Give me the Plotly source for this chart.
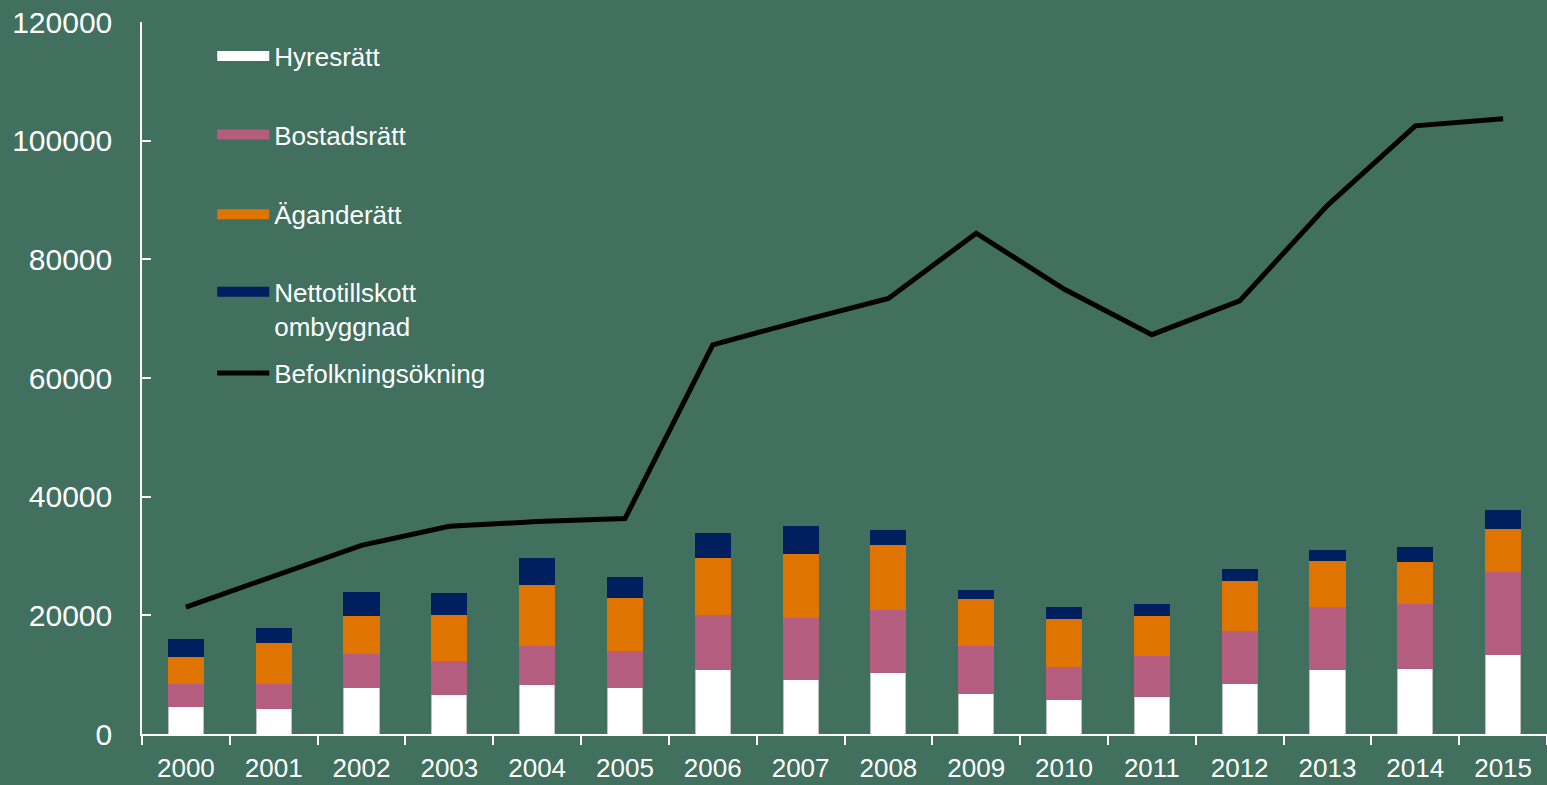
import plotly.graph_objects as go

years = ["2000", "2001", "2002", "2003", "2004", "2005", "2006", "2007",
         "2008", "2009", "2010", "2011", "2012", "2013", "2014", "2015"]
hyresratt = [4600, 4300, 7900, 6700, 8400, 7800, 10850, 9150,
             10300, 6900, 5750, 6350, 8450, 10850, 11100, 13400]
bostadsratt = [3900, 4250, 5650, 5700, 6450, 6250, 9250, 10550,
               10700, 8100, 5600, 6900, 9000, 10600, 10950, 14000]
aganderatt = [4500, 6850, 6350, 7700, 10300, 9000, 9650, 10800,
              11000, 7800, 8150, 6800, 8500, 7750, 7050, 7200]
netto_ombyggnad = [2850, 2400, 3950, 3600, 4450, 3300, 4000, 4400,
                   2250, 1350, 1750, 1700, 1750, 1800, 2350, 3000]
befolkningsokning = [21400, 26500, 31800, 35000, 35800, 36300, 65600, 69600,
                     73400, 84400, 75000, 67300, 73000, 89100, 102500, 103700]

names = ["Hyresrätt", "Bostadsrätt", "Äganderätt", "Nettotillskott<br>ombyggnad",
         "Befolkningsökning"]
colors = ["#ffffff", "#b55d7e", "#e07400", "#001f5e", "#000000"]
bg = "#41705f"
font_family = "Liberation Sans, Arial, sans-serif"

fig = go.Figure()
series = [hyresratt, bostadsratt, aganderatt, netto_ombyggnad]
for i, vals in enumerate(series):
    fig.add_trace(go.Bar(
        x=years, y=vals, name=names[i], showlegend=False,
        marker=dict(color=colors[i],
                    line=dict(color="#c0c0c0" if i == 0 else colors[i], width=1)),
    ))

fig.add_trace(go.Scatter(
    x=years, y=befolkningsokning, mode="lines", name=names[4], showlegend=False,
    line=dict(color="#000000", width=5),
))

# legend entries (one legend per item for exact placement)
legend_ids = ["legend", "legend2", "legend3", "legend4", "legend5"]
legend_y = [0.952, 0.842, 0.730, 0.597, 0.507]
for i in range(5):
    fig.add_trace(go.Scatter(
        x=[None], y=[None], mode="lines", name=names[i],
        legend=legend_ids[i], showlegend=True,
        line=dict(color=colors[i], width=13 if i < 4 else 5),
    ))

legend_common = dict(
    bgcolor="rgba(0,0,0,0)", borderwidth=0,
    font=dict(family=font_family, size=26, color="white"),
    xanchor="left", yanchor="middle", x=0.05, itemwidth=52,
    itemclick=False, itemdoubleclick=False,
)
layout_legends = {}
for i, lid in enumerate(legend_ids):
    d = dict(legend_common)
    d["y"] = legend_y[i]
    if i == 3:
        d["valign"] = "top"
    layout_legends[lid] = d

fig.update_layout(
    width=1547, height=785,
    margin=dict(l=142, r=0, t=22, b=51, autoexpand=False),
    paper_bgcolor=bg, plot_bgcolor=bg,
    barmode="stack", bargap=0.6,
    font=dict(family=font_family, color="white"),
    xaxis=dict(
        type="category", showgrid=False, zeroline=False, automargin=False,
        showline=True, linecolor="white", linewidth=1.5,
        ticks="outside", tickson="boundaries", ticklen=9, tickcolor="white",
        tickwidth=1.5, tickfont=dict(size=26, color="white"),
        ticklabelstandoff=10,
    ),
    yaxis=dict(
        range=[0, 120000], tickvals=[0, 20000, 40000, 60000, 80000, 100000, 120000],
        ticktext=["0", "20000", "40000", "60000", "80000", "100000", "120000"],
        showgrid=False, zeroline=False, automargin=False,
        showline=True, linecolor="white", linewidth=1.5,
        ticks="inside", ticklen=9, tickcolor="white", tickwidth=1.5,
        tickfont=dict(size=30, color="white"), ticklabelstandoff=22,
    ),
    **layout_legends,
)

fig.write_html(
    "out.html",
    config={"displayModeBar": False},
    post_script="document.body.style.margin='0';document.body.style.overflow='hidden';",
)
